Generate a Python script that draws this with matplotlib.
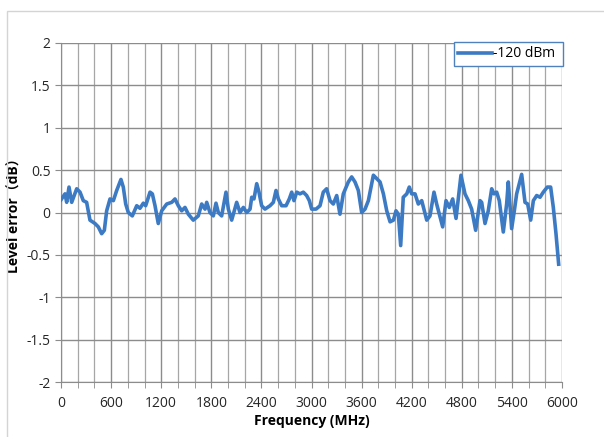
import matplotlib.pyplot as plt
from matplotlib.patches import Rectangle
from matplotlib.ticker import MultipleLocator

# values
freq_mhz = [0, 48, 68, 96, 128, 188, 228, 267, 307, 347, 407, 447, 487, 519, 547,
            587, 627, 667, 718, 746, 775, 806, 854, 907, 946, 986, 1014, 1066,
            1094, 1126, 1165, 1206, 1266, 1326, 1365, 1405, 1445, 1485, 1525,
            1584, 1644, 1685, 1725, 1745, 1784, 1824, 1856, 1884, 1924, 1976,
            2004, 2044, 2104, 2144, 2184, 2224, 2264, 2284, 2311, 2344, 2371,
            2403, 2443, 2503, 2543, 2575, 2603, 2643, 2695, 2734, 2763, 2790,
            2823, 2862, 2902, 2942, 2974, 3002, 3054, 3102, 3141, 3181, 3222,
            3261, 3302, 3341, 3381, 3441, 3481, 3521, 3561, 3601, 3641, 3681,
            3713, 3741, 3781, 3821, 3861, 3901, 3941, 3981, 4012, 4040, 4068,
            4099, 4141, 4171, 4200, 4240, 4279, 4320, 4380, 4419, 4467, 4499,
            4539, 4571, 4611, 4650, 4691, 4731, 4790, 4838, 4878, 4918, 4966,
            5018, 5038, 5078, 5117, 5158, 5186, 5218, 5249, 5297, 5337, 5357,
            5397, 5429, 5457, 5517, 5557, 5589, 5625, 5657, 5697, 5737, 5776,
            5824, 5864, 5896, 5928, 5960]
level_err = [0.15, 0.22, 0.12, 0.30, 0.12, 0.28, 0.24, 0.14, 0.12, -0.09, -0.13,
             -0.17, -0.25, -0.21, 0.02, 0.16, 0.14, 0.26, 0.39, 0.30, 0.10, 0.0,
             -0.04, 0.08, 0.05, 0.11, 0.08, 0.24, 0.22, 0.08, -0.13, 0.02, 0.10,
             0.12, 0.16, 0.08, 0.02, 0.06, -0.02, -0.09, -0.04, 0.10, 0.04, 0.12,
             0.0, -0.04, 0.11, 0.0, -0.04, 0.24, 0.04, -0.09, 0.12, 0.0, 0.06,
             0.0, 0.04, 0.18, 0.16, 0.34, 0.24, 0.08, 0.04, 0.08, 0.12, 0.26,
             0.16, 0.08, 0.08, 0.16, 0.24, 0.14, 0.24, 0.22, 0.24, 0.20, 0.14,
             0.04, 0.04, 0.08, 0.24, 0.28, 0.14, 0.10, 0.20, -0.02, 0.22, 0.36,
             0.42, 0.36, 0.26, 0.0, 0.04, 0.14, 0.30, 0.44, 0.40, 0.36, 0.22,
             0.02, -0.11, -0.09, 0.02, -0.02, -0.39, 0.18, 0.22, 0.30, 0.22,
             0.22, 0.10, 0.14, -0.09, -0.04, 0.24, 0.10, -0.05, -0.17, 0.14,
             0.06, 0.16, -0.07, 0.44, 0.22, 0.14, 0.04, -0.21, 0.14, 0.12,
             -0.13, 0.02, 0.28, 0.22, 0.24, 0.14, -0.23, 0.10, 0.36, -0.19,
             0.02, 0.22, 0.45, 0.12, 0.10, -0.09, 0.14, 0.20, 0.18, 0.24, 0.30,
             0.30, 0.06, -0.25, -0.61]
series_name = '-120 dBm'

plt.rcParams['font.family'] = ['Open Sans', 'Noto Sans CJK SC', 'DejaVu Sans']

fig = plt.figure(figsize=(6.04, 4.37), dpi=100)
fig.patches.append(Rectangle((7 / 604, -0.1), 1.2, 1 - 11 / 437 + 0.1,
                             transform=fig.transFigure, fill=False,
                             edgecolor='#d4d4d4', linewidth=1))
ax = fig.add_axes([61 / 604, 1 - 382 / 437, 501 / 604, 339 / 437])

ax.plot(freq_mhz, level_err, color='#3c7ac4', linewidth=2.6,
        solid_joinstyle='round', label=series_name, zorder=3)

ax.set_xlim(0, 6000)
ax.set_ylim(-2, 2)
ax.xaxis.set_major_locator(MultipleLocator(600))
ax.xaxis.set_minor_locator(MultipleLocator(200))
ax.yaxis.set_major_locator(MultipleLocator(0.5))
ax.set_yticklabels([f'{v:g}' for v in ax.get_yticks()])

ax.grid(True, which='major', color='#8c8c8c', linewidth=1.0)
ax.grid(True, which='minor', axis='x', color='#a6a6a6', linewidth=0.9)
for side in ['top', 'right']:
    ax.spines[side].set_visible(False)
for side in ['left', 'bottom']:
    ax.spines[side].set_color('#8c8c8c')
ax.tick_params(which='both', length=4, color='#8c8c8c', labelsize=10,
               labelcolor='#262626')
ax.tick_params(axis='x', pad=6)

ax.set_xlabel('Frequency (MHz)', fontsize=10, fontweight='bold', labelpad=2)
ax.set_ylabel('Level error（dB）', fontsize=10, fontweight='bold')
ax.yaxis.set_label_coords(-0.078, 0.5)

leg = ax.legend(loc='upper right', bbox_to_anchor=(1.002, 1.002), fontsize=10,
                frameon=True, fancybox=False, handlelength=2.5,
                borderpad=0.3, handletextpad=0.05, borderaxespad=0)
leg.get_frame().set_edgecolor('#4f81bd')
leg.get_frame().set_linewidth(1.0)
leg.get_frame().set_alpha(1)
for txt in leg.get_texts():
    txt.set_text(series_name + ' ')
for h in leg.get_lines():
    h.set_linewidth(2.6)

fig.savefig('out.png', dpi=100)
